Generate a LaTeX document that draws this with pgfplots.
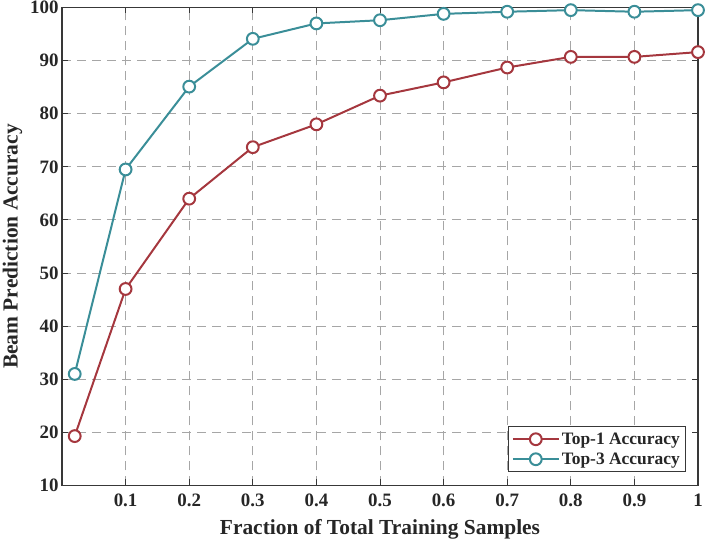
\documentclass[border=0pt]{standalone}
\usepackage{fontspec}
\setmainfont{Liberation Serif}
\usepackage{pgfplots}
\pgfplotsset{compat=1.18}
\usetikzlibrary{calc}
\definecolor{cred}{RGB}{165,55,62}
\definecolor{cteal}{RGB}{58,142,152}
\begin{document}
\begin{tikzpicture}
\begin{axis}[
  name=ax,
  scale only axis,
  width=636bp, height=478bp,
  xmin=0, xmax=1, ymin=10, ymax=100,
  xtick={0.1,0.2,0.3,0.4,0.5,0.6,0.7,0.8,0.9,1},
  xticklabels={0.1,0.2,0.3,0.4,0.5,0.6,0.7,0.8,0.9,1},
  ytick={10,20,30,40,50,60,70,80,90,100},
  yticklabels={10,20,30,40,50,60,70,80,90,100},
  tick align=inside,
  major tick length=6bp,
  tick style={black!78, line width=0.9pt},
  axis line style={black!78, line width=1.1pt},
  grid=major,
  grid style={gray!70, line width=0.9pt, dash pattern=on 9bp off 6bp},
  tick label style={font=\fontsize{19}{21}\selectfont\bfseries, text=black!85},
  xticklabel style={yshift=-5bp},
  xlabel={Fraction of Total Training Samples},
  ylabel={Beam Prediction Accuracy},
  label style={font=\fontsize{21.5}{23}\selectfont\bfseries, text=black!85},
  xlabel style={at={(axis description cs:0.5,-0.092)}, anchor=center},
  ylabel style={at={(axis description cs:-0.078,0.5)}, anchor=center, rotate=0},
  legend style={at={(0.9807,0.0278)}, anchor=south east, font=\fontsize{17.5}{19}\selectfont\bfseries, text=black!85, draw=black!78, line width=0.9pt, inner xsep=3.5bp, inner ysep=4bp, row sep=3bp},
  legend cell align=left,
  legend image code/.code={\draw[mark repeat=2,mark phase=2] plot coordinates {(0bp,0bp) (23bp,0bp) (46bp,0bp)};},
  every axis plot/.append style={line width=2pt, mark=*, mark size=5.9bp, mark options={fill=white, line width=2pt, solid}},
]
\addplot[color=cred] coordinates {
 (0.02,19.3) (0.1,47.0) (0.2,64.0) (0.3,73.7) (0.4,78.0) (0.5,83.4) (0.6,85.9) (0.7,88.7) (0.8,90.7) (0.9,90.7) (1.0,91.6)};
\addlegendentry{Top-1 Accuracy}
\addplot[color=cteal] coordinates {
 (0.02,31.0) (0.1,69.5) (0.2,85.1) (0.3,94.1) (0.4,97.0) (0.5,97.6) (0.6,98.8) (0.7,99.2) (0.8,99.5) (0.9,99.2) (1.0,99.5)};
\addlegendentry{Top-3 Accuracy}
\end{axis}
\pgfresetboundingbox
\path[use as bounding box] ($(ax.south west)+(-62bp,-56bp)$) rectangle ($(ax.north east)+(8bp,7.5bp)$);
\end{tikzpicture}
\end{document}
